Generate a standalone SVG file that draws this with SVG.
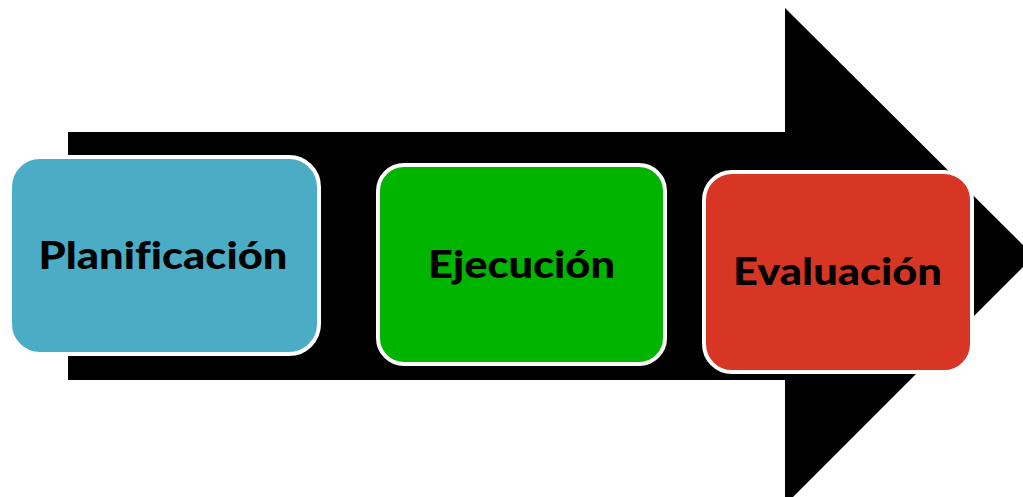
<svg xmlns="http://www.w3.org/2000/svg" width="1023" height="497" viewBox="0 0 1023 497">
<style>
.box{stroke:#ffffff;stroke-width:4}
.lbl{font-family:Lato,"Liberation Sans",sans-serif;font-weight:900;font-size:38px;fill:#000000;text-anchor:middle;font-variant-ligatures:none}
</style>
<rect width="1023" height="497" fill="#ffffff"/>
<g id="connectors">
<polygon points="68,132 785,132 785,8 1034,256 785,505 785,380 68,380" fill="#000000"/>
</g>
<g id="node-planificacion">
<rect class="box" x="10" y="157" width="309" height="197" rx="30" fill="#4BACC6"/>
<text class="lbl" x="163" y="269" textLength="249" lengthAdjust="spacingAndGlyphs">Planificación</text>
</g>
<g id="node-ejecucion">
<rect class="box" x="378" y="165" width="287" height="199" rx="26" fill="#00B400"/>
<text class="lbl" x="521.5" y="278" textLength="187" lengthAdjust="spacingAndGlyphs">Ejecución</text>
</g>
<g id="node-evaluacion">
<rect class="box" x="704" y="172" width="268" height="200" rx="28" fill="#D73625"/>
<text class="lbl" x="837.5" y="285" textLength="209" lengthAdjust="spacingAndGlyphs">Evaluación</text>
</g>
</svg>
